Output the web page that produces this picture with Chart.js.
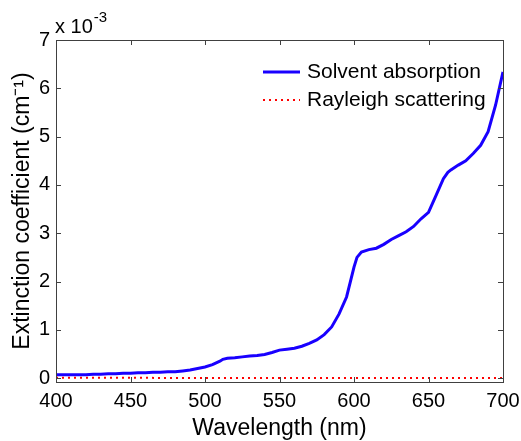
<!DOCTYPE html>
<html>
<head>
<meta charset="utf-8">
<script src="https://cdn.jsdelivr.net/npm/chart.js@4.4.1/dist/chart.umd.min.js"></script>
<style>
  html, body { margin: 0; padding: 0; background: #ffffff; }
  canvas { display: block; }
</style>
</head>
<body>
<canvas id="chart" width="521" height="441"></canvas>
<script>
// Wavelength grid (nm) and solvent absorption (units of 1e-3 cm^-1)
const wavelengths = [
  400, 405, 410, 415, 420, 425, 430, 435, 440, 445,
  450, 455, 460, 465, 470, 475, 480, 485, 490, 495,
  500, 505, 510, 512, 515, 520, 525, 530, 535, 540,
  545, 550, 555, 560, 565, 570, 575, 580, 585, 590,
  595, 598, 600, 602, 605, 610, 615, 620, 625, 630,
  635, 640, 645, 650, 655, 660, 663, 665, 670, 675,
  680, 685, 690, 695, 700
];
const solventAbsorption = [
  0.07, 0.07, 0.07, 0.07, 0.07, 0.08, 0.08, 0.09, 0.09, 0.10,
  0.10, 0.11, 0.11, 0.12, 0.12, 0.13, 0.13, 0.15, 0.17, 0.20,
  0.23, 0.28, 0.35, 0.39, 0.41, 0.42, 0.44, 0.46, 0.47, 0.49,
  0.53, 0.58, 0.60, 0.62, 0.66, 0.72, 0.79, 0.90, 1.06, 1.33,
  1.68, 2.05, 2.30, 2.50, 2.61, 2.66, 2.69, 2.77, 2.87, 2.95,
  3.03, 3.14, 3.30, 3.43, 3.78, 4.13, 4.26, 4.31, 4.41, 4.50,
  4.65, 4.82, 5.10, 5.65, 6.34
];

// Rayleigh scattering (units of 1e-3 cm^-1), practically zero on this scale
const rayleighWavelengths = [400, 450, 500, 550, 600, 650, 700];
const rayleighScattering = [0.010, 0.006, 0.004, 0.003, 0.002, 0.0015, 0.001];

// Axis ticks
const xTicks = [400, 450, 500, 550, 600, 650, 700];
const yTicks = [0, 1, 2, 3, 4, 5, 6, 7];

const seriesNames = ['Solvent absorption', 'Rayleigh scattering'];
const FONT = '"Liberation Sans", Arial, Helvetica, sans-serif';

const toPoints = (xs, ys) => xs.map((x, i) => ({ x: x, y: ys[i] }));

// White page background
const background = {
  id: 'background',
  beforeDraw(chart) {
    const ctx = chart.ctx;
    ctx.save();
    ctx.fillStyle = '#ffffff';
    ctx.fillRect(0, 0, chart.width, chart.height);
    ctx.restore();
  }
};

// Boxed axes with inward ticks on all four sides, plus the exponent label
const boxFrame = {
  id: 'boxFrame',
  afterDatasetsDraw(chart) {
    const { ctx, chartArea: a, scales } = chart;
    const len = 5;
    ctx.save();
    ctx.strokeStyle = '#404040';
    ctx.lineWidth = 1;
    ctx.beginPath();
    xTicks.forEach(v => {
      const px = Math.round(scales.x.getPixelForValue(v)) + 0.5;
      ctx.moveTo(px, a.bottom); ctx.lineTo(px, a.bottom - len);
      ctx.moveTo(px, a.top); ctx.lineTo(px, a.top + len);
    });
    yTicks.forEach(v => {
      const py = Math.round(scales.y.getPixelForValue(v)) + 0.5;
      ctx.moveTo(a.left, py); ctx.lineTo(a.left + len, py);
      ctx.moveTo(a.right, py); ctx.lineTo(a.right - len, py);
    });
    ctx.stroke();
    ctx.strokeRect(Math.round(a.left) + 0.5, Math.round(a.top) + 0.5,
                   Math.round(a.right - a.left), Math.round(a.bottom - a.top));

    // "x 10^-3" multiplier above the y axis
    ctx.fillStyle = '#000000';
    ctx.textBaseline = 'alphabetic';
    ctx.textAlign = 'left';
    ctx.font = '20px ' + FONT;
    const base = 'x 10';
    ctx.fillText(base, a.left - 1, a.top - 7);
    const w = ctx.measureText(base).width;
    ctx.font = '15px ' + FONT;
    ctx.fillText('-3', a.left - 1 + w + 1, a.top - 18);
    ctx.restore();
  }
};

// Legend drawn inside the plot, upper right, without a frame
const insideLegend = {
  id: 'insideLegend',
  afterDatasetsDraw(chart) {
    const { ctx, chartArea: a } = chart;
    ctx.save();
    ctx.font = '21px ' + FONT;
    ctx.textBaseline = 'middle';
    ctx.textAlign = 'left';
    const lineX0 = a.right - 240;
    const lineX1 = a.right - 203;
    const textX = a.right - 196;
    const rows = [a.top + 32, a.top + 60];
    chart.data.datasets.forEach((ds, i) => {
      const y = rows[i];
      ctx.strokeStyle = ds.borderColor;
      ctx.lineWidth = ds.borderWidth;
      ctx.setLineDash(ds.borderDash || []);
      ctx.beginPath();
      ctx.moveTo(lineX0, y);
      ctx.lineTo(lineX1, y);
      ctx.stroke();
      ctx.setLineDash([]);
      ctx.fillStyle = '#000000';
      ctx.fillText(ds.label, textX, y);
    });
    ctx.restore();
  }
};

new Chart(document.getElementById('chart'), {
  type: 'line',
  data: {
    datasets: [
      {
        label: seriesNames[0],
        data: toPoints(wavelengths, solventAbsorption),
        borderColor: 'rgb(25, 0, 255)',
        borderWidth: 3,
        pointRadius: 0,
        tension: 0,
        fill: false
      },
      {
        label: seriesNames[1],
        data: toPoints(rayleighWavelengths, rayleighScattering),
        borderColor: 'rgb(255, 0, 0)',
        borderWidth: 2,
        borderDash: [2, 4],
        pointRadius: 0,
        tension: 0,
        fill: false
      }
    ]
  },
  options: {
    responsive: false,
    animation: false,
    devicePixelRatio: 1,
    layout: { padding: { top: 40, right: 18, left: 0, bottom: 0 } },
    plugins: {
      legend: { display: false },
      tooltip: { enabled: false }
    },
    scales: {
      x: {
        type: 'linear',
        min: 400,
        max: 700,
        afterBuildTicks(axis) { axis.ticks = xTicks.map(v => ({ value: v })); },
        afterFit(axis) {
          axis.height = 59;
          axis.paddingLeft = 0;
          axis.paddingRight = 0;
        },
        grid: { display: false, drawTicks: false },
        border: { display: false },
        ticks: {
          color: '#000000',
          font: { family: FONT, size: 20 },
          padding: 7,
          maxRotation: 0
        },
        title: {
          display: true,
          text: 'Wavelength (nm)',
          color: '#000000',
          font: { family: FONT, size: 23 },
          padding: { top: 0, bottom: -1 }
        }
      },
      y: {
        type: 'linear',
        min: -0.08,
        max: 7,
        afterBuildTicks(axis) { axis.ticks = yTicks.map(v => ({ value: v })); },
        afterFit(axis) {
          axis.width = 56;
          axis.paddingTop = 0;
          axis.paddingBottom = 0;
        },
        grid: { display: false, drawTicks: false },
        border: { display: false },
        ticks: {
          color: '#000000',
          font: { family: FONT, size: 20 },
          padding: 6
        },
        title: {
          display: true,
          text: 'Extinction coefficient (cm⁻¹)',
          color: '#000000',
          font: { family: FONT, size: 23 },
          padding: { top: 9, bottom: 0 }
        }
      }
    }
  },
  plugins: [background, boxFrame, insideLegend]
});
</script>
</body>
</html>
